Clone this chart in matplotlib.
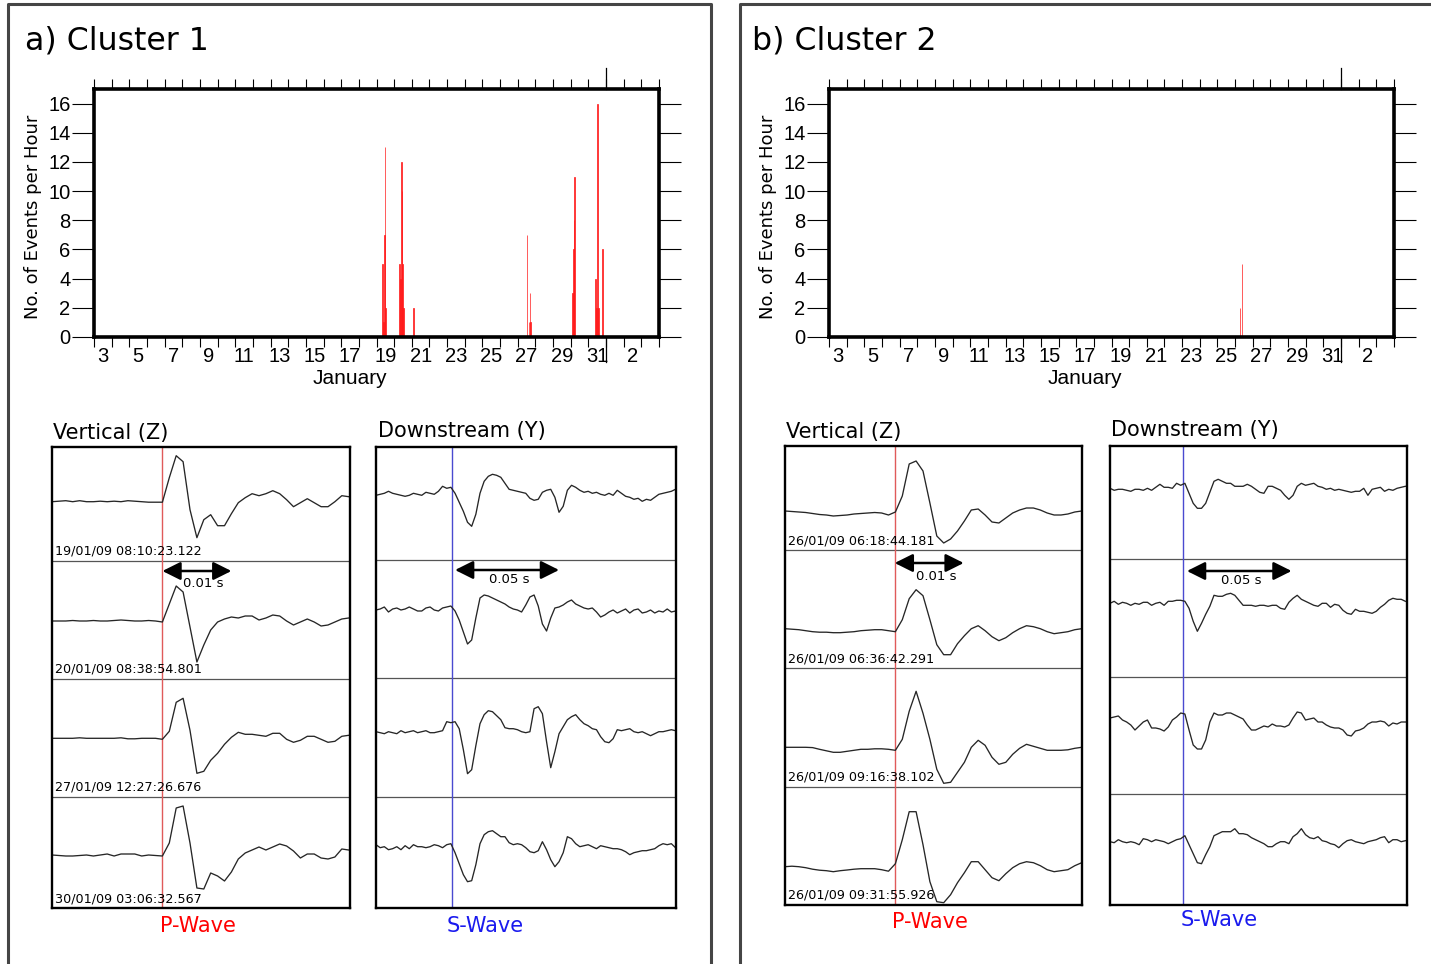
import numpy as np
import matplotlib
matplotlib.use("Agg")
import matplotlib.pyplot as plt
from matplotlib.lines import Line2D

plt.rcParams['font.family'] = ['DejaVu Sans']
NARROW = ['Liberation Sans Narrow', 'Liberation Sans', 'DejaVu Sans']

# ---------------- data ----------------
# hourly event counts, time as fractional day of January 2009 (bin start)
times1 = [19.33, 19.375, 19.42, 19.46, 19.5, 20.29, 20.33, 20.375, 20.42, 20.46, 20.5,
          21.08, 27.5, 27.62, 27.67, 27.71, 30.08, 30.12, 30.17, 30.21,
          31.38, 31.46, 31.5, 31.54, 31.79]
counts1 = [5, 1, 7, 13, 2, 5, 4, 12, 10, 5, 2,
           2, 7, 1, 3, 1, 3, 6, 8, 11,
           4, 2, 16, 2, 6]
times2 = [26.25, 26.375]
counts2 = [2, 5]

day_labels = [str(d) for d in range(3, 32, 2)] + ['2']

# P-wave (vertical) traces, 1 ms samples, amplitude in pixels
stamps1 = ["19/01/09 08:10:23.122", "20/01/09 08:38:54.801",
           "27/01/09 12:27:26.676", "30/01/09 03:06:32.567"]
stamps2 = ["26/01/09 06:18:44.181", "26/01/09 06:36:42.291",
           "26/01/09 09:16:38.102", "26/01/09 09:31:55.926"]

z1 = [
    [0, 0.5, 1, 0, 1, 0, 0, 0.5, 0, 0.5, 0, 1, 0.5, 0, -0.5, -0.5, -0.5, 24, 46, 40,
     -8, -36, -18, -13, -24, -24, -12, -1, 4, 8, 6, 8, 11, 8, 2, -5, -1, 3, -1, -5,
     -5, 0, 6, 5],
    [0, 0, 0, 0.5, 0, 0, 0.5, 0, 0, 0.5, 1, 0.5, 0, 0, 0.5, 0, -1, 17, 35, 29,
     -6, -41, -24, -9, -1, 2, 4, 3, 5, 5, 1, 3, 6, 5, 0, -4, -1, 2, -1, -5,
     -4, -1, 2, 3],
    [0, 0, 0, 0, 0.5, 0, 0, 0, 0, 0, 0.5, -0.5, -0.5, 0, 0, 0, -1, 7, 36, 40,
     8, -35, -33, -22, -15, -6, 1, 6, 4, 4, 3, 2, 5, 5, -1, -4, -2, 2, 2, -1,
     -4, -3, 2, 3],
    [0, -0.5, -1, -1, -0.5, 0, -1, 0, 1, -1, 1, 1, 1, -1, 0, -0.5, -1, 12, 47, 49,
     12, -33, -34, -18, -21, -26, -17, -4, 2, 5, 8, 5, 8, 11, 9, 4, -3, 1, 1, -3,
     -4, -2, 6, 5],
]
z2 = [
    [0, -0.5, -1, -1.5, -2.5, -3.5, -4, -5, -4.5, -4, -3, -2.5, -2, -1.5, -2, -4, -1, 15, 47, 50,
     40, 8, -25, -32, -28, -20, -10, 1, 2, -4, -11, -12, -7, -2, 1, 3, 3, 1, -2, -4,
     -4, -3, -1, 0],
    [0, -0.5, -1, -2, -3, -3.5, -3.5, -4, -4, -3.5, -3, -2, -1.5, -1, -1, -2, -3, 9, 30, 39,
     33, 9, -16, -26, -26, -15, -7, 0, 3, -2, -8, -12, -9, -4, 0, 3, 2, 0, -3, -5,
     -4, -3, -1, 0],
    [0, 0, 0, 0, -0.3, -2, -3.5, -5, -5, -4, -3, -2, -2, -1.5, -1.5, -2, -3, 8, 36, 56,
     34, 8, -22, -36, -35, -25, -15, 0, 7, 2, -10, -17, -15, -7, -1, 3, 1, -1, -3, -3,
     -3, -2.5, -1, 0],
    [0, 0.5, 0, -1, -2.5, -3.5, -4, -5, -4, -3.3, -2.5, -2, -2, -2, -3, -4.5, 3, 27, 55, 55,
     22, -15, -35, -36, -28, -16, -6, 5, 5, -3, -11, -14, -7, -1, 3, 5, 4, 1, -3, -5,
     -4, -3, 1, 4],
]

# S-wave (downstream) traces, 2 ms samples, amplitude in pixels
y1 = [
    [-1, 0, 1, 3, 1, 0, -1, -2, -1, 1, 0, -1, 2, 1, 0, 3, 8, 6, 7, 1,
     -8, -17, -28, -32, -20, 1, 13, 18, 20, 19, 17, 11, 5, 4, 3, 2, 1, -4, -6, -5,
     2, 4, 5, -3, -18, -12, 4, 9, 7, 4, 2, 3, 1, 2, 0, -1, 1, -1, 4, 1,
     -2, -3, -5, -4, -7, -5, -6, -3, 0, 1, 2, 3, 5],
    [0, 1, 3, -2, 1, 2, 0, 1, 3, 1, -1, -1, 2, 3, 0, -1, 2, 3, 4, -1,
     -10, -22, -34, -30, -8, 12, 15, 14, 12, 10, 8, 6, 3, 1, 0, -2, 5, 13, 15, 4,
     -14, -21, -8, 2, 3, 5, 8, 10, 6, 4, 2, 1, 2, -2, -7, -5, -2, 0, -3, -1,
     1, -3, 0, 1, -3, -2, 0, -3, -1, -2, 1, -2, -1],
    [0, -1, -2, 0, -1, -2, 1, -1, 0, 1, -1, 0, 1, -1, -1, 0, 1, 10, 9, 10,
     3, -18, -42, -38, -14, 8, 17, 21, 20, 16, 12, 4, 3, 3, 2, 0, -1, 0, 23, 25,
     18, -10, -36, -20, -2, 5, 12, 15, 17, 12, 8, 6, 3, 2, -5, -10, -11, -7, 2, 1,
     2, 3, 0, -1, 0, -2, -4, -2, 0, 0, 1, 2, 1],
    [2, -1, 0, -3, -2, 0, -3, 1, -2, 2, 0, 0, -1, 0, 2, 1, -1, 2, 3, -6,
     -17, -28, -35, -34, -18, 3, 12, 15, 16, 13, 10, 10, 4, 2, 3, 2, -1, -5, -6, -4,
     5, -3, -13, -20, -15, -6, 10, 8, 3, 0, 1, 2, 0, -2, 1, 0, -1, -2, -2, -3,
     -5, -8, -6, -5, -4, -4, -3, -2, 1, 3, 2, 3, -1],
]
y2 = [
    [1, -1, 0, 0, -1, -2, 0, 0, -1, 1, -1, 2, 5, 2, 2, 1, 6, 4, 6, -4,
     -14, -19, -19, -14, -3, 8, 10, 8, 6, 6, 3, 3, 3, 5, 3, 0, -3, -4, 3, 3,
     1, -1, -6, -10, -6, 3, 6, 4, 5, 6, 3, 2, 0, 1, -1, 0, -1, -2, -3, -2,
     -2, 1, -6, 0, 1, 2, -2, 0, -1, 1, 2, 3],
    [0, 2, -1, 1, 0, -2, 0, -1, 1, 1, -2, 0, 1, -2, 2, 2, 3, 3, 2, -5,
     -18, -28, -20, -11, -3, 8, 7, 7, 9, 10, 8, 3, -2, -2, -2, -3, -2, -2, -3, -2,
     -2, -5, -6, 1, 5, 8, 4, 2, 0, -2, -3, 0, 0, -4, -1, -2, -7, -10, -11, -6,
     -8, -8, -9, -10, -8, -4, -1, 3, 5, 4, 4, 2],
    [2, 3, 4, 0, -2, -5, -10, -6, -2, 0, -8, -8, -9, -11, -7, 0, 3, 7, 6, -10,
     -25, -29, -29, -20, -2, 7, 5, 5, 7, 7, 5, 3, 1, -5, -10, -10, -8, -6, -7, -4,
     -6, -6, -7, -5, 2, 8, 7, 0, 1, 2, -2, -2, -5, -7, -8, -8, -10, -15, -16, -11,
     -10, -8, -4, -2, -2, -1, -2, -6, -3, -4, -2, -2],
    [0, -1, 2, 0, -1, 0, -1, -3, 3, 2, 0, 2, 1, 0, -2, 0, 2, 3, 6, -3,
     -12, -21, -22, -13, -5, 6, 8, 10, 10, 10, 13, 8, 8, 7, 4, 2, 0, -2, -5, -5,
     -2, 0, 0, -2, 5, 8, 13, 7, 4, 3, 5, 1, 0, -2, -3, -6, -2, 1, 2, 0,
     -1, -2, 0, 1, 2, 4, 5, -1, 2, 2, 0, 1],
]

# ---------------- figure ----------------
W, H = 1431, 964
fig = plt.figure(figsize=(W / 100, H / 100), dpi=100)


def box(l, t, r, b):
    return fig.add_axes([l / W, 1 - b / H, (r - l) / W, (b - t) / H])


def fline(xs, ys, **kw):
    fig.add_artist(Line2D([x / W for x in xs], [1 - y / H for y in ys],
                          transform=fig.transFigure, **kw))


# panel frames
fline([8, 8, 711, 711], [H + 5, 4, 4, H + 5], color='#454545', lw=2.2)
fline([740, 740, W + 5], [H + 5, 4, 4], color='#454545', lw=2.2)

fig.text(25 / W, 1 - 50 / H, "a) Cluster 1", fontsize=22.7, va='baseline')
fig.text(752 / W, 1 - 50 / H, "b) Cluster 2", fontsize=22.7, va='baseline')


def event_hist(l, r, times, counts):
    ax = box(l, 89, r, 337)
    ax.bar(times, counts, width=1 / 24, align='edge', color='#ff1a1a',
           edgecolor='#ff1a1a', linewidth=0.5)
    ax.set_xlim(3, 35)
    ax.set_ylim(0, 17)
    ax.set_yticks(range(0, 17, 2))
    ax.tick_params(axis='y', direction='out', length=16, width=0.8,
                   left=True, right=True, labelsize=14.5, pad=1)
    ax.set_xticks(range(3, 36))
    ax.set_xticklabels([])
    ax.set_xticks(np.arange(3.5, 34, 2), minor=True)
    ax.set_xticklabels(day_labels, minor=True)
    ax.tick_params(axis='x', which='major', direction='out', length=7, width=0.8,
                   top=True, bottom=True)
    ax.tick_params(axis='x', which='minor', length=0, pad=7, labelsize=14.5)
    for lbl in ax.get_xticklabels(minor=True) + ax.get_yticklabels():
        lbl.set_fontfamily(NARROW)
    for s in ax.spines.values():
        s.set_linewidth(2.6)
    trans = ax.get_xaxis_transform()
    ax.plot([32, 32], [1, 1 + 21 / 248], transform=trans, clip_on=False, color='k', lw=0.9)
    ax.plot([32, 32], [0, -25 / 248], transform=trans, clip_on=False, color='k', lw=0.9)
    ax.text(17.5, -0.13, "January", transform=trans, ha='center', va='top',
            fontsize=15, family=NARROW)
    fig.text((l - 61) / W, 1 - 217 / H, "No. of Events per Hour", rotation=90,
             ha='center', va='center', fontsize=13)
    return ax


event_hist(94, 659, times1, counts1)
event_hist(829, 1394, times2, counts2)


def wave_panel(l, t, r, b, px_per_ms, dt, onset, seps, bases, traces,
               line_color, arrow, stamps=None):
    ax = box(l, t, r, b)
    h = b - t
    ax.set_xlim(0, (r - l) / px_per_ms)
    ax.set_ylim(h, 0)
    ax.set_xticks([])
    ax.set_yticks([])
    for s in ax.spines.values():
        s.set_linewidth(1.7)
    for y in seps:
        ax.axhline(y - t, color='#555555', lw=0.9)
    ax.axvline(onset, color=line_color, lw=1.0)
    for base, amp in zip(bases, traces):
        tt = np.arange(len(amp)) * dt
        ax.plot(tt, (base - t) - np.array(amp), color='#262626', lw=0.95)
    if stamps:
        bottoms = list(seps) + [b]
        for yb, s in zip(bottoms, stamps):
            ax.text(3 / px_per_ms, yb - t - 6, s, fontsize=9.2, va='baseline')
    x0, x1, ya, xt, yt, label = arrow
    ax.annotate('', xy=(x1, ya - t), xytext=(x0, ya - t),
                arrowprops=dict(arrowstyle='<|-|>,head_length=1.1,head_width=0.55',
                                color='k', lw=1.8, shrinkA=0, shrinkB=0),
                annotation_clip=False)
    ax.text(xt, yt - t, label, ha='center', va='center', fontsize=9.5)
    return ax


P_SCALE = 6.9   # px per ms on vertical panels
S_SCALE = 2.08  # px per ms on downstream panels

# Cluster 1
wave_panel(52, 447, 350, 908, P_SCALE, 1, 16.0, [561, 679, 797],
           [501.7, 621, 738.3, 855], z1, '#e05a5a',
           (16.0, 26.0, 571, 21.9, 584, "0.01 s"), stamps1)
wave_panel(376, 447, 676, 908, S_SCALE, 2, 36.4, [560, 678, 797],
           [494.3, 610, 731.7, 846.7], y1, '#4a4ad0',
           (38.0, 88.0, 570, 64.0, 580, "0.05 s"))
# Cluster 2
wave_panel(785, 446, 1082, 905, P_SCALE, 1, 15.9, [550, 668, 787],
           [511, 628.7, 747.3, 866.7], z2, '#e05a5a',
           (15.9, 25.9, 563, 21.9, 576, "0.01 s"), stamps2)
wave_panel(1110, 446, 1407, 905, S_SCALE, 2, 35.2, [559, 677, 794],
           [489.3, 603.3, 720, 841.7], y2, '#4a4ad0',
           (37.0, 87.3, 571, 63.0, 581, "0.05 s"))

# sub-titles
for x, y, s in [(53, 439, "Vertical (Z)"), (378, 437, "Downstream (Y)"),
                (786, 438, "Vertical (Z)"), (1111, 436, "Downstream (Y)")]:
    fig.text(x / W, 1 - y / H, s, fontsize=15, va='baseline')

for x, y, s, c in [(198, 926, "P-Wave", '#ff0000'), (485, 926, "S-Wave", '#1a1aee'),
                   (930, 922, "P-Wave", '#ff0000'), (1219, 920, "S-Wave", '#1a1aee')]:
    fig.text(x / W, 1 - y / H, s, fontsize=15, color=c, ha='center', va='center')

fig.savefig("out.png", dpi=100)
